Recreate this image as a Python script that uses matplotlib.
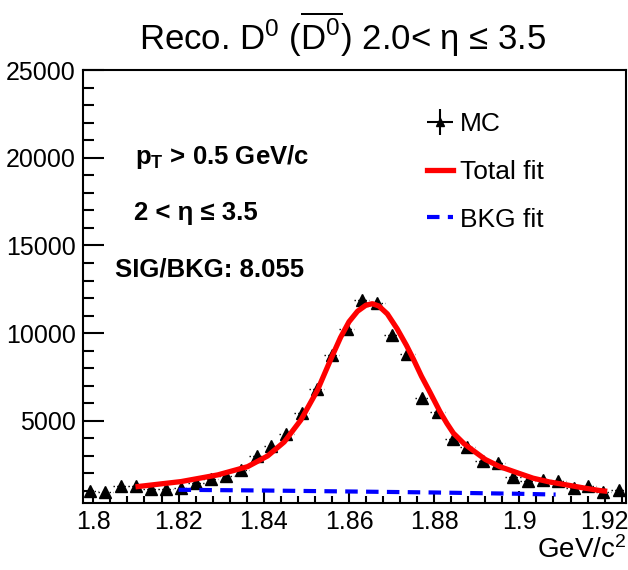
import numpy as np
import matplotlib.pyplot as plt
from matplotlib.ticker import MultipleLocator, FormatStrFormatter
from matplotlib.lines import Line2D

plt.rcParams['font.family'] = ['Liberation Sans', 'DejaVu Sans']
plt.rcParams['mathtext.fontset'] = 'custom'
plt.rcParams['mathtext.rm'] = 'Liberation Sans'
plt.rcParams['mathtext.it'] = 'Liberation Sans:italic'
plt.rcParams['mathtext.bf'] = 'Liberation Sans:bold'

# invariant mass bins (GeV/c^2) and MC counts
mass = [1.7993, 1.8028, 1.8064, 1.8099, 1.8135, 1.8170, 1.8206, 1.8241, 1.8276,
        1.8312, 1.8347, 1.8383, 1.8418, 1.8453, 1.8489, 1.8524, 1.8560, 1.8595,
        1.8630, 1.8666, 1.8701, 1.8737, 1.8772, 1.8808, 1.8843, 1.8878, 1.8914,
        1.8949, 1.8985, 1.9020, 1.9056, 1.9091, 1.9127, 1.9162, 1.9197, 1.9233]
counts = [1010, 920, 1260, 1300, 1110, 1140, 1170, 1450, 1680, 1880, 2200, 2990,
          3560, 4280, 5450, 6830, 8770, 10260, 11900, 11740, 9920, 8820, 6310, 5520,
          3960, 3520, 2710, 2620, 1820, 1580, 1640, 1600, 1170, 1260, 940, 1070]
bin_half = 0.00177

# total fit
fit_x = [1.8105, 1.8206, 1.8292, 1.8362, 1.8409, 1.8448, 1.8487, 1.8526, 1.8557,
         1.8580, 1.8600, 1.8620, 1.8640, 1.8655, 1.8670, 1.8690, 1.8713, 1.8735,
         1.8751, 1.8770, 1.8790, 1.8814, 1.8830, 1.8845, 1.8870, 1.8892, 1.8920,
         1.8954, 1.9000, 1.9032, 1.9070, 1.9110, 1.9150, 1.9188, 1.9200]
fit_y = [1257, 1540, 1920, 2390, 3000, 3800, 5050, 6750, 8500,
         9750, 10650, 11250, 11600, 11680, 11550, 11100, 10250, 9300,
         8528, 7550, 6636, 5504, 4850, 4300, 3700, 3300, 2800,
         2390, 2000, 1733, 1520, 1353, 1180, 1030, 1000]

# background fit
bkg_x = [1.82, 1.84, 1.86, 1.88, 1.90, 1.9085]
bkg_y = [1070, 1030, 975, 917, 843, 800]

fig = plt.figure(figsize=(6.28, 5.70), dpi=100)
ax = fig.add_axes([0.1317, 0.117, 0.865, 0.760])

eb = ax.errorbar(mass, counts, xerr=bin_half, yerr=np.sqrt(counts), fmt='^',
                 color='black', ms=9, elinewidth=1, capsize=0, zorder=3)
eb[2][0].set_linestyle(':')
ax.plot(fit_x, fit_y, color='#ff0000', lw=3.8, zorder=4)
ax.plot(bkg_x, bkg_y, color='#0000ff', lw=3.0, ls=(0, (3, 2)), zorder=4)

ax.set_xlim(1.7975, 1.925)
ax.set_ylim(300, 25000)
ax.xaxis.set_major_locator(MultipleLocator(0.02))
ax.xaxis.set_minor_locator(MultipleLocator(0.004))
ax.xaxis.set_major_formatter(FormatStrFormatter('%g'))
ax.yaxis.set_major_locator(MultipleLocator(5000))
ax.yaxis.set_minor_locator(MultipleLocator(1000))
ax.tick_params(which='both', direction='in', labelsize=18, width=1.5,
               top=False, right=False)
ax.tick_params(axis='x', which='major', length=9, pad=5)
ax.tick_params(axis='x', which='minor', length=5)
ax.tick_params(axis='y', which='major', length=15, pad=5)
ax.tick_params(axis='y', which='minor', length=8)
for s in ax.spines.values():
    s.set_linewidth(1.5)

fig.text(0.545, 1 - 34 / 570, r'Reco. $\mathrm{D}^0$ ($\overline{\mathrm{D}^0}$) 2.0< η ≤ 3.5',
         ha='center', va='center', fontsize=25)
fig.text(0.998, 1 - 550 / 570, r'GeV/c$^2$', ha='right', va='center', fontsize=20)

ax.text(0.096, 0.799, r'$\mathbf{p}_\mathbf{T}$ > 0.5 GeV/c', transform=ax.transAxes,
        fontsize=18.5, fontweight='bold', va='center')
ax.text(0.094, 0.670, '2 < η ≤ 3.5', transform=ax.transAxes,
        fontsize=18.5, fontweight='bold', va='center')
ax.text(0.0595, 0.539, 'SIG/BKG: 8.055', transform=ax.transAxes,
        fontsize=18.5, fontweight='bold', va='center')

h_mc = (Line2D([], [], color='black', marker='+', ms=19, mew=1.5, ls='none'),
        Line2D([], [], color='black', marker='^', ms=6, ls='none'))
h_fit = Line2D([], [], color='#ff0000', lw=3.8)
h_bkg = Line2D([], [], color='#0000ff', lw=3.0, ls=(0, (3, 2)))
ax.legend([h_mc, h_fit, h_bkg], ['MC', 'Total fit', 'BKG fit'],
          loc='upper left', bbox_to_anchor=(0.634, 0.903), frameon=False,
          fontsize=19, handlelength=1.0, handletextpad=0.25, labelspacing=0.9,
          borderpad=0, borderaxespad=0)

fig.savefig('out.png', dpi=100)
